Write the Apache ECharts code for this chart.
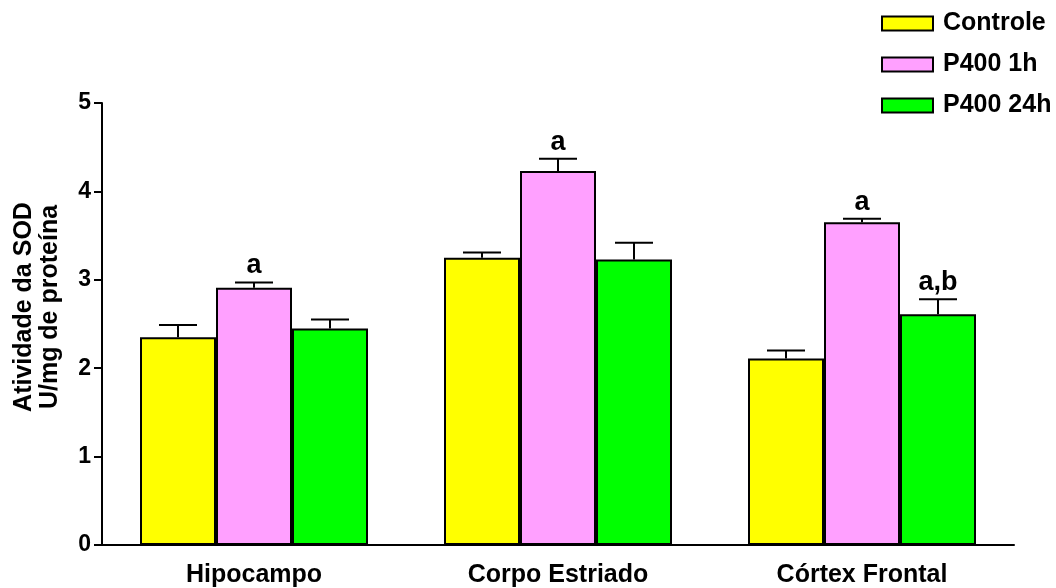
<!DOCTYPE html>
<html>
<head>
<meta charset="utf-8">
<script src="https://cdn.jsdelivr.net/npm/echarts@6/dist/echarts.min.js"></script>
<style>
  html, body { margin: 0; padding: 0; background: #fff; }
  #chart { width: 1056px; height: 588px; }
</style>
</head>
<body>
<div id="chart"></div>
<script>
// SOD activity per brain region
const regions = ['Hipocampo', 'Corpo Estriado', 'Córtex Frontal'];
const groupNames = ['Controle', 'P400 1h', 'P400 24h'];
const groupColors = ['#FFFF00', '#FFA0FF', '#00FF00'];

// mean values (U/mg de proteína)
const controle = [2.35, 3.25, 2.11];
const p400_1h = [2.91, 4.23, 3.65];
const p400_24h = [2.45, 3.23, 2.61];

// standard error (upper bar only)
const errControle = [0.14, 0.06, 0.09];
const err1h = [0.06, 0.14, 0.04];
const err24h = [0.10, 0.19, 0.17];

// significance marks
const sigControle = ['', '', ''];
const sig1h = ['a', 'a', 'a'];
const sig24h = ['', '', 'a,b'];

const yTicks = [0, 1, 2, 3, 4, 5];

const FONT = '"Liberation Sans", Arial, sans-serif';
const means = [controle, p400_1h, p400_24h];
const errs = [errControle, err1h, err24h];
const sigs = [sigControle, sig1h, sig24h];

const chart = echarts.init(document.getElementById('chart'));

function errorSeries(gi) {
  return {
    type: 'custom',
    name: groupNames[gi] + ' erro',
    z: 5,
    silent: true,
    data: regions.map((r, ci) => [ci, means[gi][ci], errs[gi][ci]]),
    renderItem: function (params, api) {
      const ci = api.value(0);
      const v = api.value(1);
      const e = api.value(2);
      const sig = sigs[gi][ci];
      const band = api.size([1, 0])[0];
      const barW = band * 0.75 / 3;
      const base = api.coord([ci, v]);
      const top = api.coord([ci, v + e]);
      const x = base[0] + (gi - 1) * barW;
      const capHalf = barW * 0.25;
      const children = [
        { type: 'line', shape: { x1: x, y1: base[1], x2: x, y2: top[1] },
          style: { stroke: '#000', lineWidth: 2 } },
        { type: 'line', shape: { x1: x - capHalf, y1: top[1], x2: x + capHalf, y2: top[1] },
          style: { stroke: '#000', lineWidth: 2 } }
      ];
      if (sig) {
        children.push({
          type: 'text',
          style: {
            text: sig, x: x, y: top[1] - 3,
            align: 'center', verticalAlign: 'bottom',
            font: 'bold 27px ' + FONT, fill: '#000'
          }
        });
      }
      return { type: 'group', children: children };
    }
  };
}

const barSeries = groupNames.map((name, gi) => ({
  type: 'bar',
  name: name,
  data: means[gi],
  barGap: '0%',
  barCategoryGap: '25%',
  itemStyle: { color: groupColors[gi], borderColor: '#000', borderWidth: 2 }
}));

chart.setOption({
  animation: false,
  backgroundColor: '#fff',
  grid: { left: 102, right: 42, top: 103, bottom: 43, containLabel: false },
  legend: {
    data: groupNames,
    orient: 'vertical',
    left: 876,
    top: 6,
    itemWidth: 51,
    itemHeight: 14,
    itemGap: 16,
    icon: 'rect',
    selectedMode: false,
    textStyle: {
      fontFamily: FONT, fontWeight: 'bold', fontSize: 25, color: '#000',
      lineHeight: 25, padding: [0, 0, 0, 5]
    }
  },
  xAxis: {
    type: 'category',
    data: regions,
    axisTick: { show: false },
    axisLine: { lineStyle: { color: '#000', width: 2 } },
    axisLabel: {
      fontFamily: FONT, fontWeight: 'bold', fontSize: 25, color: '#000', margin: 18
    }
  },
  yAxis: {
    type: 'value',
    min: yTicks[0],
    max: yTicks[yTicks.length - 1],
    interval: 1,
    splitLine: { show: false },
    axisLine: { show: true, lineStyle: { color: '#000', width: 2 } },
    axisTick: { show: true, length: 8, lineStyle: { color: '#000', width: 2 } },
    axisLabel: {
      fontFamily: FONT, fontWeight: 'bold', fontSize: 23, color: '#000', margin: 11
    }
  },
  graphic: [{
    type: 'text',
    x: 37,
    y: 307,
    rotation: Math.PI / 2,
    style: {
      text: 'Atividade da SOD\nU/mg de proteína',
      font: 'bold 25px ' + FONT,
      lineHeight: 26,
      align: 'center',
      verticalAlign: 'middle',
      fill: '#000'
    }
  }],
  series: barSeries.concat([0, 1, 2].map(errorSeries))
});
</script>
</body>
</html>
